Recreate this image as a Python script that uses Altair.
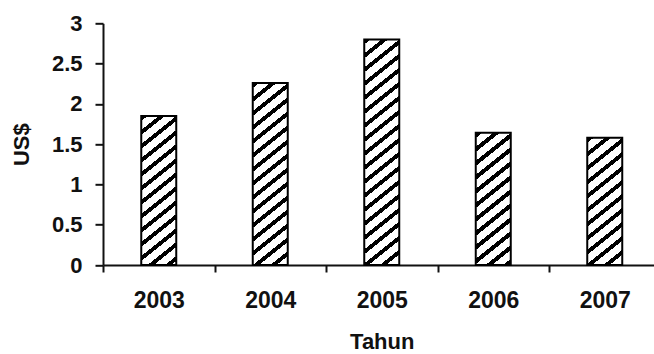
import altair as alt
import pandas as pd

years = ["2003", "2004", "2005", "2006", "2007"]
values = [1.85, 2.26, 2.80, 1.64, 1.58]
y_ticks = [0, 0.5, 1, 1.5, 2, 2.5, 3]

df = pd.DataFrame({"Tahun": years, "US$": values})

# layout (pixels)
PLOT_W = 551
RANGE_W = 557.5
PLOT_H = 241.7
Y_MAX = 3.0
BAR_W = 35
FONT = "Liberation Sans"
INK = "#111111"


def hatch(value):
    """Diagonal-stripe (///) gradient for one bar, in objectBoundingBox units.

    Stripes follow s*x + y = const in pixels; the gradient vector is the
    normal of those lines expressed in bounding-box units.
    """
    w = BAR_W
    h = value / Y_MAX * PLOT_H
    s = 0.8        # stripe slope
    period = 14.0  # vertical stripe period in px
    dark = 0.36
    span = s * w + h
    a = span / (s * s * w * w + h * h)
    n = span / period
    stops = []
    k = 0
    while k / n < 1:
        o0 = k / n
        o1 = min((k + dark) / n, 1)
        o2 = min((k + 1) / n, 1)
        stops += [
            alt.GradientStop(color="#000000", offset=o0),
            alt.GradientStop(color="#000000", offset=o1),
        ]
        if o1 < 1:
            stops += [
                alt.GradientStop(color="#ffffff", offset=o1),
                alt.GradientStop(color="#ffffff", offset=o2),
            ]
        k += 1
    return alt.LinearGradient(gradient="linear", stops=stops,
                              x1=0, y1=0, x2=a * s * w, y2=a * h)


x_enc = alt.X(
    "Tahun:N",
    sort=years,
    scale=alt.Scale(range=[0, RANGE_W], paddingInner=0, paddingOuter=0),
    axis=alt.Axis(
        title="Tahun",
        tickBand="extent",
        labelAngle=0,
        labelFont=FONT, labelFontSize=23, labelFontWeight="bold", labelColor=INK,
        labelPadding=17,
        titleFont=FONT, titleFontSize=22, titleFontWeight="bold", titleColor=INK,
        titlePadding=19,
        domainColor=INK, domainWidth=2,
        tickColor=INK, tickWidth=2, tickSize=7,
    ),
)
y_enc = alt.Y(
    "US$:Q",
    scale=alt.Scale(domain=[0, Y_MAX], nice=False),
    axis=alt.Axis(
        title="US$",
        values=y_ticks,
        format="~g",
        grid=False,
        labelFlush=False,
        labelFont=FONT, labelFontSize=22, labelFontWeight="bold", labelColor=INK,
        labelPadding=13,
        titleFont=FONT, titleFontSize=22, titleFontWeight="bold", titleColor=INK,
        titlePadding=18,
        domainColor=INK, domainWidth=2,
        tickColor=INK, tickWidth=2, tickSize=8,
    ),
)

layers = []
for yr, v in zip(years, values):
    layers.append(
        alt.Chart(df)
        .transform_filter(alt.datum.Tahun == yr)
        .mark_bar(width=BAR_W, fill=hatch(v), stroke="#000000", strokeWidth=2)
        .encode(x=x_enc, y=y_enc)
    )

chart = (
    alt.layer(*layers)
    .properties(
        width=PLOT_W,
        height=PLOT_H,
        autosize=alt.AutoSizeParams(type="none"),
        padding={"left": 103, "top": 23.3, "right": 0, "bottom": 89},
        background="white",
    )
    .configure_view(stroke=None)
)

chart.save("out.html", embed_options={"renderer": "svg", "actions": False})
